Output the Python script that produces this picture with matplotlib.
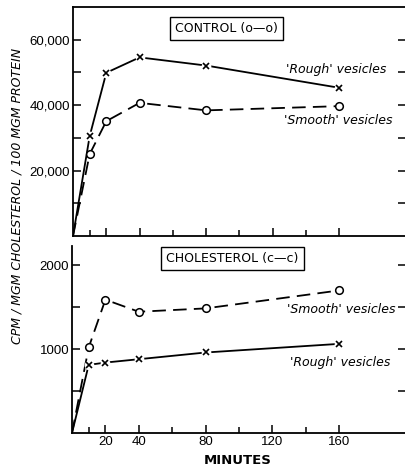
import numpy as np
import matplotlib.pyplot as plt
from matplotlib.ticker import FixedLocator, FuncFormatter

# incubation times (minutes)
minutes = [0, 10, 20, 40, 80, 160]

# control: cpm / 100 mgm protein
control_rough = [0, 30500, 49900, 54600, 52100, 45300]
control_smooth = [0, 25000, 35100, 40700, 38400, 39700]

# cholesterol: cpm / mgm cholesterol
chol_smooth = [0, 1020, 1590, 1446, 1486, 1700]
chol_rough = [0, 812, 840, 880, 960, 1063]

x_major = [20, 40, 80, 120, 160]
x_minor = [10, 60, 100, 140]

W, H = 406, 470
fig = plt.figure(figsize=(W / 100, H / 100), dpi=100)

tick_font = dict(family="Liberation Sans", size=9.5)
lbl_font = dict(family="DejaVu Sans", style="italic", size=9)


def px_axes(left, top, right, bottom):
    return fig.add_axes([left / W, 1 - bottom / H, (right - left) / W, (bottom - top) / H])


def draw_series(ax, y, marker, ls):
    ax.plot(minutes, y, color="black", lw=1.3, ls=ls, dashes=(7.5, 4) if ls == "--" else (None, None),
            zorder=2)
    pts_x, pts_y = minutes[1:], y[1:]
    if marker == "x":
        ax.plot(pts_x, pts_y, "o", ms=7, mfc="white", mec="none", zorder=3)
        ax.plot(pts_x, pts_y, "x", ms=4.5, mew=1.2, color="black", zorder=4)
    else:
        ax.plot(pts_x, pts_y, "o", ms=5.5, mfc="white", mec="black", mew=1.1, zorder=4)


def style_axes(ax, yticks, ylim, fmt, labels_y):
    ax.set_xlim(0, 200)
    ax.set_ylim(*ylim)
    ax.spines["right"].set_visible(False)
    for s in ax.spines.values():
        s.set_linewidth(1.3)
    ax.xaxis.set_major_locator(FixedLocator(x_major))
    ax.xaxis.set_minor_locator(FixedLocator(x_minor))
    ax.yaxis.set_major_locator(FixedLocator(labels_y))
    ax.yaxis.set_minor_locator(FixedLocator([v for v in yticks if v not in labels_y]))
    ax.yaxis.set_major_formatter(FuncFormatter(fmt))
    ax.tick_params(which="both", direction="in", left=True, right=True, top=False, bottom=True,
                   width=1.1, pad=2)
    ax.tick_params(which="major", length=6)
    ax.tick_params(which="minor", length=4)
    ax.tick_params(axis="y", which="both", length=6)
    for t in ax.get_yticklabels() + ax.get_xticklabels():
        t.set_fontfamily(tick_font["family"])
        t.set_fontsize(tick_font["size"])


# upper panel: control
ax1 = px_axes(73, 7, 406, 236)
draw_series(ax1, control_rough, "x", "-")
draw_series(ax1, control_smooth, "o", "--")
style_axes(ax1, [10000, 20000, 30000, 40000, 50000, 60000], (0, 70000),
           lambda v, p: f"{int(v):,}", [20000, 40000, 60000])
ax1.set_xticklabels([])
ax1.text(0.461, 0.906, "CONTROL (o—o)", transform=ax1.transAxes, ha="center", va="center",
         fontsize=9, family="DejaVu Sans",
         bbox=dict(boxstyle="square,pad=0.4", fc="white", ec="black", lw=1.0))
ax1.text(128, 51000, "'Rough' vesicles", ha="left", va="center", **lbl_font)
ax1.text(127, 35400, "'Smooth' vesicles", ha="left", va="center", **lbl_font)

# lower panel: cholesterol
ax2 = px_axes(72, 246, 406, 433)
draw_series(ax2, chol_rough, "x", "-")
draw_series(ax2, chol_smooth, "o", "--")
style_axes(ax2, [500, 1000, 1500, 2000], (0, 2230),
           lambda v, p: f"{int(v)}", [1000, 2000])
ax2.spines["top"].set_visible(False)
ax2.text(0.48, 0.933, "CHOLESTEROL (c—c)", transform=ax2.transAxes, ha="center", va="center",
         fontsize=9, family="DejaVu Sans",
         bbox=dict(boxstyle="square,pad=0.4", fc="white", ec="black", lw=1.0))
ax2.text(129, 1476, "'Smooth' vesicles", ha="left", va="center", **lbl_font)
ax2.text(130.5, 845, "'Rough' vesicles", ha="left", va="center", **lbl_font)

fig.text(17 / W, 1 - 196 / H, "CPM / MGM CHOLESTEROL / 100 MGM PROTEIN", rotation=90,
         ha="center", va="center", fontsize=9, style="italic", family="DejaVu Sans")
fig.text(238 / W, 1 - 461 / H, "MINUTES", ha="center", va="center", fontsize=9.5,
         family="DejaVu Sans", weight="semibold")

fig.savefig("out.png", dpi=100)
